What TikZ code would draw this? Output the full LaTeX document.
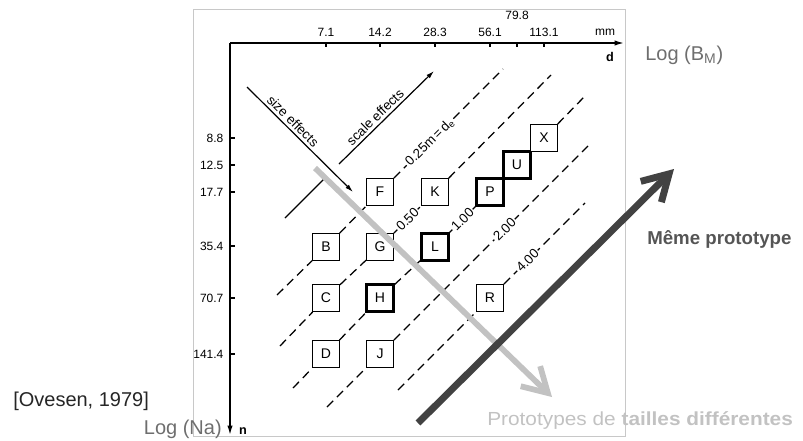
\documentclass[tikz,border=0pt]{standalone}
\usepackage{fontspec}
\setmainfont{Liberation Sans}
\newfontfamily\widesans[FakeStretch=1.1]{Liberation Sans}
\usetikzlibrary{arrows.meta, positioning}
\definecolor{frameGray}{HTML}{C8C8C8}
\definecolor{sizeGray}{HTML}{C2C2C2}
\definecolor{protoDark}{HTML}{424242}
\definecolor{labelGray}{HTML}{6E6E6E}
\definecolor{noteGray}{HTML}{555555}

\begin{document}
\begin{tikzpicture}[x=0.75pt, y=-0.75pt,
    specimen/.style={rectangle, draw=black, fill=white, line width=0.9pt,
                minimum size=20pt, inner sep=0pt, font=\fontsize{10.5}{11}\selectfont},
    specbold/.style={specimen, line width=1.8pt},
    axislabel/.style={font=\fontsize{9}{10}\selectfont, inner sep=1pt},
    axisline/.style={line width=1.1pt},
    ratioline/.style={line width=0.95pt, dash pattern=on 6.5pt off 4pt},
    ratiolabel/.style={sloped, fill=white, inner sep=1pt, font=\fontsize{10}{11}\selectfont},
    effect/.style={line width=0.9pt},
    effectlabel/.style={sloped, above, inner sep=2pt, font=\fontsize{10}{11}\selectfont},
    caption/.style={font=\fontsize{15}{16}\selectfont, text=labelGray, inner sep=0pt},
  ]
    \useasboundingbox (0,0) rectangle (803,440);
    \draw[frameGray, line width=0.6pt] (193,9) rectangle (625,436);

    % axes
    \coordinate (o) at (230,43);
    \coordinate (xend) at (624,43);
    \coordinate (yend) at (230,435);
    \draw[axisline, -{Latex[length=7pt, width=4pt]}] (o) -- (xend);
    \draw[axisline, -{Latex[length=7pt, width=4pt]}] (o) -- (yend);

    \node[axislabel] (d71) at (326,32) {7.1};
    \node[axislabel] (d142) at (380,32) {14.2};
    \node[axislabel] (d283) at (435,32) {28.3};
    \node[axislabel] (d561) at (490,32) {56.1};
    \node[axislabel] (d798) at (517,15) {79.8};
    \node[axislabel] (d1131) at (544,32) {113.1};
    \node[axislabel] (mm) at (605,32) {mm};
    \node[axislabel, font=\fontsize{9.5}{10}\selectfont\bfseries] (dname) at (610,57) {d};
    \draw[axisline] (326,43) -- (326,47);
    \draw[axisline] (380,43) -- (380,47);
    \draw[axisline] (435,43) -- (435,47);
    \draw[axisline] (490,43) -- (490,47);
    \draw[axisline] (517,43) -- (517,47);
    \draw[axisline] (544,43) -- (544,47);

    \node[axislabel, anchor=east] (n88) at (225,138) {8.8};
    \node[axislabel, anchor=east] (n125) at (225,165) {12.5};
    \node[axislabel, anchor=east] (n177) at (225,192) {17.7};
    \node[axislabel, anchor=east] (n354) at (225,246) {35.4};
    \node[axislabel, anchor=east] (n707) at (225,298) {70.7};
    \node[axislabel, anchor=east] (n1414) at (225,354) {141.4};
    \node[axislabel, font=\fontsize{9.5}{10}\selectfont\bfseries] (nname) at (243,431) {n};
    \draw[axisline] (230,138) -- (235,138);
    \draw[axisline] (230,165) -- (235,165);
    \draw[axisline] (230,192) -- (235,192);
    \draw[axisline] (230,246) -- (235,246);
    \draw[axisline] (230,298) -- (235,298);
    \draw[axisline] (230,354) -- (235,354);

    % models
    \node[specimen] (B) at (326,247) {B};
    \node[specimen] (C) at (326,298) {C};
    \node[specimen] (D) at (326,354) {D};
    \node[specimen] (F) at (380,192) {F};
    \node[specimen] (G) at (380,247) {G};
    \node[specbold] (H) at (380,298) {H};
    \node[specimen] (J) at (380,354) {J};
    \node[specimen] (K) at (435,192) {K};
    \node[specbold] (L) at (435,247) {L};
    \node[specbold] (P) at (490,192) {P};
    \node[specimen] (R) at (490,298) {R};
    \node[specbold] (U) at (517,165) {U};
    \node[specimen] (X) at (544,138) {X};

    % lines of equal d/B ratio
    \coordinate (r25a) at (277,295);  \coordinate (r25b) at (503,69);
    \coordinate (r50a) at (280,346);  \coordinate (r50b) at (551,75);
    \coordinate (r1a) at (293,388);   \coordinate (r1b) at (585,96);
    \coordinate (r2a) at (327,407);   \coordinate (r2b) at (588,146);
    \coordinate (r4a) at (398,390);   \coordinate (r4b) at (585,203);
    \draw[ratioline] (r25a) -- (B) -- (F) -- node[ratiolabel, pos=0.33] {0.25m\,=\,d\textsubscript{e}} (r25b);
    \draw[ratioline] (r50a) -- (C) -- (G) -- node[ratiolabel] {0.50} (K) -- (r50b);
    \draw[ratioline] (r1a) -- (D) -- (H) -- (L) -- node[ratiolabel] {1.00} (P);
    \draw[ratioline] (X) -- (r1b);
    \draw[ratioline] (r2a) -- (J) -- node[ratiolabel, pos=0.57] {2.00} (r2b);
    \draw[ratioline] (r4a) -- (R) -- node[ratiolabel, pos=0.29] {4.00} (r4b);

    % size and scale effects
    \coordinate (se1) at (247,87);  \coordinate (se2) at (353,192);
    \coordinate (sc1) at (285,218); \coordinate (sc2) at (324,179);
    \coordinate (sc3) at (339,164); \coordinate (sc4) at (434,71);
    \draw[effect, -{Latex[length=6pt, width=3.5pt]}] (se1) -- node[effectlabel, pos=0.38] {size effects} (se2);
    \draw[effect] (sc1) -- (sc2);
    \draw[effect, -{Latex[length=6pt, width=3.5pt]}] (sc3) -- node[effectlabel, pos=0.44] {scale effects} (sc4);

    % overlay arrows
    \coordinate (g1) at (315,168);  \coordinate (g2) at (552,397);
    \coordinate (k1) at (418,423);  \coordinate (k2) at (674,169);
    \draw[sizeGray, line width=4.3pt, -{Straight Barb[angle=60:21pt]}] (g1) -- (g2);
    \draw[protoDark, line width=5.2pt, -{Straight Barb[angle=60:22pt]}] (k1) -- (k2);

    \node[caption, anchor=west] (bm) at (645,55) {Log (B\textsubscript{M})};
    \node[caption, anchor=east] (na) at (222,429) {Log (Na)};
    \node[caption, anchor=west, text=black!85] (ref) at (13,401) {[Ovesen, 1979]};
    \node[anchor=west, inner sep=0pt, font=\fontsize{14}{16}\selectfont\bfseries, text=noteGray] (same) at (647,239) {Même prototype};
    \node[anchor=west, inner sep=0pt, font=\fontsize{14.2}{16}\selectfont\widesans, text=sizeGray] (diff) at (487,421) {Prototypes de \textbf{tailles différentes}};
  \end{tikzpicture}
\end{document}
